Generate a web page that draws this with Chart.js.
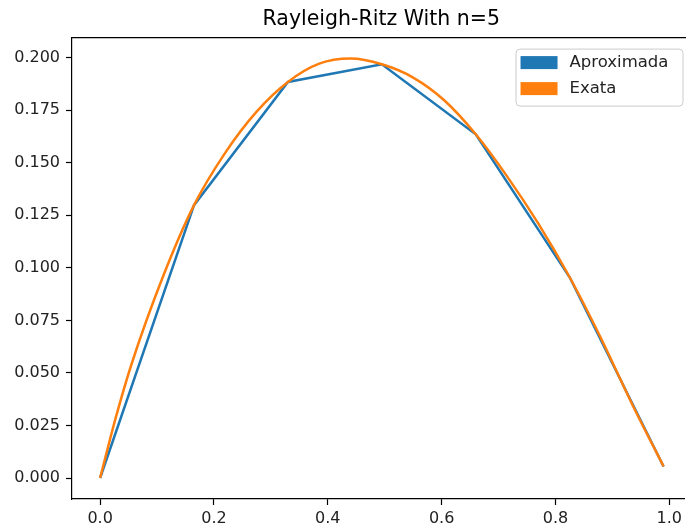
<!DOCTYPE html>
<html>
<head>
<meta charset="utf-8">
<script src="https://cdn.jsdelivr.net/npm/chart.js@4.4.1/dist/chart.umd.min.js"></script>
<style>
  html, body { margin: 0; padding: 0; background: #fff; overflow: hidden; }
  .chart-container { position: relative; width: 686px; height: 530px; }
</style>
</head>
<body>
<div class="chart-container"><canvas id="chart" width="686" height="530"></canvas></div>
<script>
const chartTitle = "Rayleigh-Ritz With n=5";
const seriesNames = ["Aproximada", "Exata"];
const seriesColors = ["#1f77b4", "#ff7f0e"];

// nodes of the approximation
const xApprox = [0, 0.165, 0.33, 0.495, 0.66, 0.825, 0.99];
const yApprox = [0, 0.1298, 0.1884, 0.1968, 0.1635, 0.0955, 0.0055];

// exact curve
const xExact = [0, 0.0275, 0.055, 0.11, 0.165, 0.22, 0.275, 0.33, 0.385, 0.44, 0.495,
                0.55, 0.605, 0.66, 0.715, 0.77, 0.825, 0.88, 0.935, 0.99];
const yExact = [0, 0.0287, 0.054, 0.0955, 0.1298, 0.1548, 0.1743, 0.1884, 0.1971, 0.1995, 0.1968,
                0.1905, 0.1796, 0.1635, 0.1435, 0.121, 0.0955, 0.0665, 0.035, 0.0055];

const xTicks = [0, 0.2, 0.4, 0.6, 0.8, 1.0];
const yTicks = [0, 0.025, 0.05, 0.075, 0.1, 0.125, 0.15, 0.175, 0.2];

const FONT = "'DejaVu Sans', sans-serif";

const toPoints = (xs, ys) => xs.map((x, i) => ({ x: x, y: ys[i] }));

// the real axes box runs a bit past the right edge of the picture
const AXES_OVERHANG = 6;

// matplotlib-like frame: top spine (right one is cut off)
const framePlugin = {
  id: "frame",
  afterDraw(chart) {
    const { ctx, chartArea: a } = chart;
    ctx.save();
    ctx.strokeStyle = "#000";
    ctx.lineWidth = 1.2;
    ctx.beginPath();
    ctx.moveTo(a.left, a.top);
    ctx.lineTo(chart.width, a.top);
    ctx.stroke();
    ctx.restore();
  }
};

// legend box in the upper right of the axes
const legendBoxPlugin = {
  id: "legendBox",
  afterDraw(chart) {
    const { ctx, chartArea: a } = chart;
    const boxW = 167, boxH = 57;
    const bx = a.right - 2 - boxW, by = a.top + 11;
    ctx.save();
    ctx.fillStyle = "rgba(255,255,255,0.8)";
    ctx.strokeStyle = "#cccccc";
    ctx.lineWidth = 1;
    ctx.beginPath();
    ctx.roundRect(bx + 0.5, by + 0.5, boxW, boxH, 4);
    ctx.fill();
    ctx.stroke();
    ctx.font = "16.5px " + FONT;
    ctx.textBaseline = "middle";
    seriesNames.forEach((name, i) => {
      const cy = by + 14 + i * 26;
      ctx.fillStyle = seriesColors[i];
      ctx.fillRect(bx + 5, cy - 6.5, 37, 13);
      ctx.fillStyle = "#222";
      ctx.fillText(name, bx + 54, cy);
    });
    ctx.restore();
  }
};

// center the title over the whole axes box
const titleCenterPlugin = {
  id: "titleCenter",
  afterLayout(chart) {
    if (chart.titleBlock) {
      chart.titleBlock.left = chart.chartArea.left;
      chart.titleBlock.right = chart.chartArea.right + AXES_OVERHANG;
    }
  }
};

const tickStyle = {
  display: true,
  drawOnChartArea: false,
  drawTicks: true,
  tickLength: 6,
  tickColor: "#000",
  tickWidth: 1.2
};

new Chart(document.getElementById("chart"), {
  type: "line",
  data: {
    datasets: [
      {
        label: seriesNames[0],
        data: toPoints(xApprox, yApprox),
        borderColor: seriesColors[0],
        backgroundColor: seriesColors[0],
        borderWidth: 2.5,
        pointRadius: 0,
        tension: 0,
        order: 1
      },
      {
        label: seriesNames[1],
        data: toPoints(xExact, yExact),
        borderColor: seriesColors[1],
        backgroundColor: seriesColors[1],
        borderWidth: 2.5,
        pointRadius: 0,
        cubicInterpolationMode: "monotone",
        order: 0
      }
    ]
  },
  options: {
    responsive: false,
    animation: false,
    layout: { padding: { left: 0, right: 0, top: 0, bottom: 0 } },
    plugins: {
      legend: { display: false },
      tooltip: { enabled: false },
      title: {
        display: true,
        text: chartTitle,
        color: "#000",
        font: { family: FONT, size: 20.5, weight: "normal" },
        padding: { top: 7, bottom: 6 }
      }
    },
    scales: {
      x: {
        type: "linear",
        min: -0.0494,
        max: 1.0268,
        afterBuildTicks: (scale) => { scale.ticks = xTicks.map(v => ({ value: v })); },
        afterFit: (scale) => { scale.height = 31; },
        grid: tickStyle,
        border: { display: true, color: "#000", width: 1.2 },
        ticks: {
          color: "#222",
          padding: 4,
          maxRotation: 0,
          autoSkip: false,
          font: { family: FONT, size: 16 },
          callback: (v) => Number(v).toFixed(1)
        }
      },
      y: {
        type: "linear",
        min: -0.00998,
        max: 0.2095,
        afterBuildTicks: (scale) => { scale.ticks = yTicks.map(v => ({ value: v })); },
        afterFit: (scale) => { scale.width = 72; },
        grid: tickStyle,
        border: { display: true, color: "#000", width: 1.2 },
        ticks: {
          color: "#222",
          padding: 6,
          autoSkip: false,
          font: { family: FONT, size: 16 },
          callback: (v) => Number(v).toFixed(3)
        }
      }
    }
  },
  plugins: [titleCenterPlugin, framePlugin, legendBoxPlugin]
});
</script>
</body>
</html>
